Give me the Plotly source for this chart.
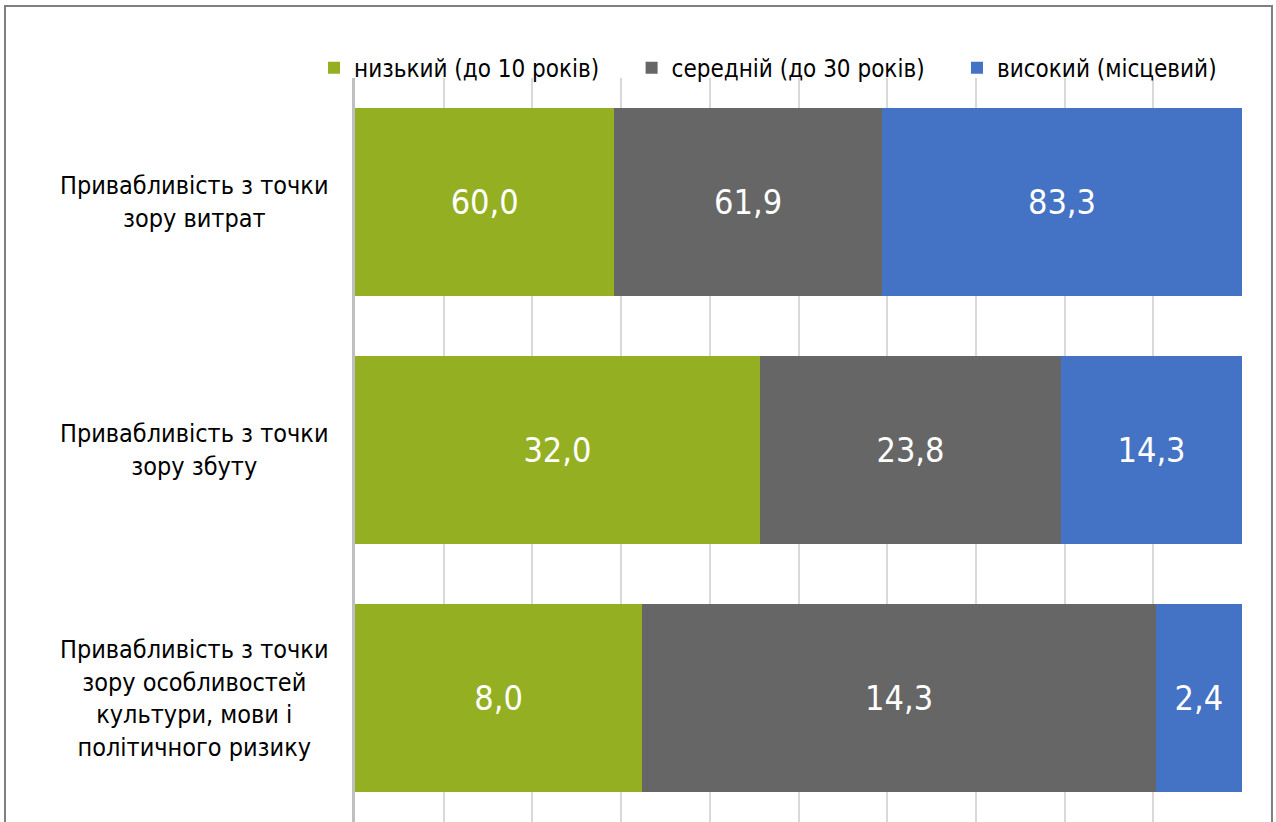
import plotly.graph_objects as go

categories = [
    "Привабливість з точки<br>зору витрат",
    "Привабливість з точки<br>зору збуту",
    "Привабливість з точки<br>зору особливостей<br>культури, мови і<br>політичного ризику",
]
series_names = ["низький (до 10 років)", "середній (до 30 років)", "високий (місцевий)"]
low_vals = [60.0, 32.0, 8.0]
mid_vals = [61.9, 23.8, 14.3]
high_vals = [83.3, 14.3, 2.4]
colors = ["#94AF21", "#666666", "#4472C4"]

FONT = "Liberation Sans Narrow, DejaVu Sans Condensed, Roboto, sans-serif"
PAD = "\u00a0" * 4  # extra spacing between legend entries


def fmt(v):
    return f"{v:.1f}".replace(".", ",")


fig = go.Figure()
for i, (name, vals, col) in enumerate(zip(series_names, [low_vals, mid_vals, high_vals], colors)):
    fig.add_trace(go.Bar(
        y=categories, x=vals, name=name + (PAD if i < 2 else ""), orientation="h",
        marker=dict(color=col, line=dict(width=0)),
        text=[fmt(v) for v in vals], textposition="inside",
        insidetextanchor="middle", textangle=0,
        textfont=dict(color="white", size=34, family=FONT),
        hoverinfo="skip",
    ))

for c in categories:
    fig.add_annotation(
        x=-0.1815, xref="paper", y=c, yref="y", text=c, showarrow=False,
        xanchor="center", yanchor="middle", align="center",
        font=dict(size=25, color="black", family=FONT),
    )

# outer frame
fig.add_shape(type="rect", xref="paper", yref="paper",
              x0=-0.3946, x1=1.0338, y0=-0.2, y1=1.0968,
              line=dict(color="#7F7F7F", width=2), layer="below")

fig.update_layout(
    width=1276, height=822,
    barmode="stack", barnorm="percent", bargap=0.24,
    margin=dict(l=355, r=34, t=78, b=0),
    paper_bgcolor="white", plot_bgcolor="white",
    font=dict(family=FONT, color="black"),
    showlegend=True,
    legend=dict(orientation="h", x=-0.0462, xanchor="left", y=1.0134, yanchor="middle",
                font=dict(size=24, color="black", family=FONT),
                traceorder="normal", bgcolor="rgba(0,0,0,0)"),
    xaxis=dict(range=[0, 100], dtick=10, showgrid=True, gridcolor="#D9D9D9", gridwidth=2,
               showticklabels=False, zeroline=False, showline=False, fixedrange=True),
    yaxis=dict(autorange="reversed", showticklabels=False, showgrid=False,
               showline=True, linecolor="#BFBFBF", linewidth=3, fixedrange=True),
)

fig.write_html("out.html", config={"displayModeBar": False},
               post_script="document.body.style.margin='0';")
